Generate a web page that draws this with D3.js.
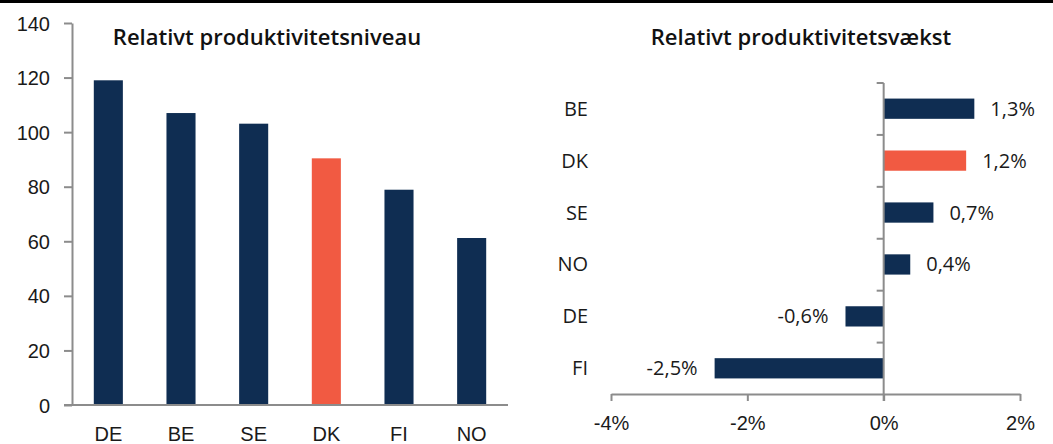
<!DOCTYPE html>
<html>
  <head>
    <meta charset="UTF-8">
    <script src="https://d3js.org/d3.v7.min.js"></script>
    <style>
      body { margin: 0; background: #fff; }
      svg { font-family: "Open Sans", "Noto Sans", sans-serif; }
      .axis text { font-size: 20px; fill: #1a1a1a; }
      .axis line, .axis path { stroke: #8c8c8c; stroke-width: 2; }
      .title { font-size: 22px; font-weight: 600; fill: #111; }
      .val { font-size: 20px; fill: #1a1a1a; }
    </style>
  </head>
  <body>
    <div id="chart"></div>
    <script>
      // data
      const levelCountries = ["DE", "BE", "SE", "DK", "FI", "NO"];
      const levelValues = [119, 107, 103.1, 90.4, 78.9, 61.2];
      const levelTicks = [0, 20, 40, 60, 80, 100, 120, 140];

      const growthCountries = ["BE", "DK", "SE", "NO", "DE", "FI"];
      const growthValues = [1.33, 1.21, 0.73, 0.39, -0.56, -2.48];
      const growthTicks = [-4, -2, 0, 2];

      const highlight = "DK";
      const navy = "#0f2d52";
      const red = "#f15a42";

      const width = 1053, height = 444;
      const svg = d3.select("#chart").append("svg")
        .attr("width", width)
        .attr("height", height);

      // black rule at the top
      svg.append("rect")
        .attr("x", 0).attr("y", 0)
        .attr("width", width).attr("height", 3)
        .attr("fill", "#000");

      // ---- left: level chart
      const x1 = d3.scaleBand().domain(levelCountries).range([72, 508]).paddingInner(0.6).paddingOuter(0.3);
      const y1 = d3.scaleLinear().domain([0, 140]).range([405, 23]);

      svg.append("g")
        .attr("class", "axis")
        .attr("transform", "translate(72,0)")
        .call(d3.axisLeft(y1).tickValues(levelTicks).tickSize(8).tickSizeOuter(0).tickPadding(14))
        .call(g => g.selectAll("text").attr("dy", "0.35em"));

      svg.selectAll("rect.lvl")
        .data(levelValues)
        .join("rect")
        .attr("class", "lvl")
        .attr("x", (d, i) => x1(levelCountries[i]))
        .attr("y", d => y1(d))
        .attr("width", x1.bandwidth())
        .attr("height", d => y1(0) - y1(d))
        .attr("fill", (d, i) => levelCountries[i] === highlight ? red : navy);

      const xAxis1 = svg.append("g")
        .attr("class", "axis")
        .attr("transform", `translate(0,${y1(0)})`)
        .call(d3.axisBottom(x1).tickSize(0).tickPadding(22));
      xAxis1.select(".domain").attr("d", "M64,0H508");

      svg.append("text")
        .attr("class", "title")
        .attr("x", 267).attr("y", 45)
        .attr("text-anchor", "middle")
        .text("Relativt produktivitetsniveau");

      // ---- right: growth chart
      const x2 = d3.scaleLinear().domain([-4, 2]).range([611, 1020]);
      const y2 = d3.scaleBand().domain(growthCountries).range([83, 394]).paddingInner(0.61).paddingOuter(0.3);

      svg.selectAll("rect.grw")
        .data(growthValues)
        .join("rect")
        .attr("class", "grw")
        .attr("x", d => x2(Math.min(0, d)))
        .attr("y", (d, i) => y2(growthCountries[i]))
        .attr("width", d => Math.abs(x2(d) - x2(0)))
        .attr("height", y2.bandwidth())
        .attr("fill", (d, i) => growthCountries[i] === highlight ? red : navy);

      const fmt = d => (d < 0 ? "-" : "") + d3.format(".1f")(Math.abs(d)).replace(".", ",") + "%";
      svg.selectAll("text.val")
        .data(growthValues)
        .join("text")
        .attr("class", "val")
        .attr("x", d => d >= 0 ? x2(d) + 16 : x2(d) - 17)
        .attr("y", (d, i) => y2(growthCountries[i]) + y2.bandwidth() / 2)
        .attr("dy", "0.35em")
        .attr("text-anchor", d => d >= 0 ? "start" : "end")
        .text(fmt);

      // x axis
      svg.append("g")
        .attr("class", "axis")
        .attr("transform", "translate(0,394)")
        .call(d3.axisBottom(x2).tickValues(growthTicks).tickSize(7).tickSizeOuter(0).tickPadding(15)
          .tickFormat(d => (d < 0 ? "-" : "") + Math.abs(d) + "%"));

      // y axis at zero, ticks between categories
      const yTicks = growthCountries.map((d, i) => 83 + i * y2.step());
      const yAx = svg.append("g").attr("class", "axis");
      yAx.append("path").attr("d", `M${x2(0)},83V401`);
      yAx.selectAll("line")
        .data(yTicks)
        .join("line")
        .attr("x1", x2(0) - 7).attr("x2", x2(0))
        .attr("y1", d => d).attr("y2", d => d);

      svg.selectAll("text.cat")
        .data(growthCountries)
        .join("text")
        .attr("class", "cat")
        .attr("x", 588)
        .attr("y", d => y2(d) + y2.bandwidth() / 2)
        .attr("dy", "0.35em")
        .attr("text-anchor", "end")
        .style("font-size", "20px")
        .attr("fill", "#1a1a1a")
        .text(d => d);

      svg.append("text")
        .attr("class", "title")
        .attr("x", 801).attr("y", 45)
        .attr("text-anchor", "middle")
        .text("Relativt produktivitetsvækst");
    </script>
  </body>
</html>
